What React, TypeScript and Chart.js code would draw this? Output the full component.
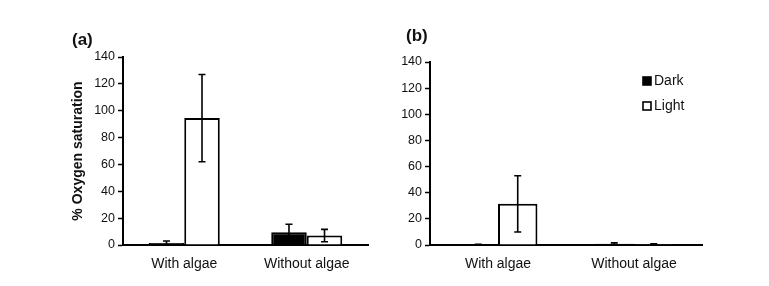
import React, { useEffect, useRef } from 'react';
import { Chart, registerables } from 'chart.js';

Chart.register(...registerables);

const FONT = '"Liberation Sans", Arial, sans-serif';
const TEXT = '#111111';

const categories = ['With algae', 'Without algae'];
const seriesNames = ['Dark', 'Light'];
const yMax = 140;
const yStep = 20;

// Panel (a)
const aDark = [1.5, 9.5];
const aDarkErr = [1.5, 6];
const aLight = [94.5, 7];
const aLightErr = [32.5, 4.6];

// Panel (b)
const bDark = [0.3, 0.9];
const bDarkErr = [0.2, 0.7];
const bLight = [31.5, 0.6];
const bLightErr = [21.5, 0.4];

const errorBarPlugin = {
  id: 'errorBars',
  afterDatasetsDraw(chart: any) {
    const ctx = chart.ctx;
    const ys = chart.scales.y;
    chart.data.datasets.forEach((ds: any, i: number) => {
      const errs = ds.errors;
      if (!errs) return;
      const meta = chart.getDatasetMeta(i);
      meta.data.forEach((bar: any, j: number) => {
        const v = ds.data[j];
        const e = errs[j];
        if (!e) return;
        const x = bar.x;
        const yTop = ys.getPixelForValue(v + e);
        const yBot = ys.getPixelForValue(Math.max(0, v - e));
        ctx.save();
        ctx.strokeStyle = '#000';
        ctx.lineWidth = 1.6;
        ctx.beginPath();
        ctx.moveTo(x, yTop);
        ctx.lineTo(x, yBot);
        ctx.moveTo(x - 3.5, yTop);
        ctx.lineTo(x + 3.5, yTop);
        ctx.moveTo(x - 3.5, yBot);
        ctx.lineTo(x + 3.5, yBot);
        ctx.stroke();
        ctx.restore();
      });
    });
  },
};

const customLegendPlugin = {
  id: 'customLegend',
  afterDraw(chart: any) {
    const opts = chart.options.plugins.customLegend;
    if (!opts || !opts.display) return;
    const ctx = chart.ctx;
    ctx.save();
    chart.data.datasets.forEach((ds: any, i: number) => {
      const y = opts.y + i * opts.gap;
      ctx.fillStyle = ds.backgroundColor;
      ctx.strokeStyle = '#000';
      ctx.lineWidth = 1.6;
      ctx.fillRect(opts.x, y - 4, 8, 8);
      ctx.strokeRect(opts.x, y - 4, 8, 8);
      ctx.fillStyle = TEXT;
      ctx.font = `14px ${FONT}`;
      ctx.textBaseline = 'middle';
      ctx.textAlign = 'left';
      ctx.fillText(ds.label, opts.x + 11, y + 0.5);
    });
    ctx.restore();
  },
};

type PanelProps = {
  left: number;
  width: number;
  padding: { left: number; right: number; top: number; bottom: number };
  yWidth: number;
  showTitle: boolean;
  dark: number[];
  darkErr: number[];
  light: number[];
  lightErr: number[];
  legend?: { x: number; y: number; gap: number };
};

function Panel(p: PanelProps) {
  const ref = useRef<HTMLCanvasElement | null>(null);
  useEffect(() => {
    if (!ref.current) return;
    const chart = new Chart(ref.current, {
      type: 'bar',
      data: {
        labels: categories,
        datasets: [
          {
            label: seriesNames[0],
            data: p.dark,
            errors: p.darkErr,
            backgroundColor: '#000000',
            borderColor: '#000000',
            borderWidth: 2,
            categoryPercentage: 0.58,
            barPercentage: 1,
          } as any,
          {
            label: seriesNames[1],
            data: p.light,
            errors: p.lightErr,
            backgroundColor: '#ffffff',
            borderColor: '#000000',
            borderWidth: 2,
            categoryPercentage: 0.58,
            barPercentage: 1,
          } as any,
        ],
      },
      options: {
        responsive: false,
        animation: false,
        events: [],
        layout: { padding: p.padding },
        plugins: {
          legend: { display: false },
          tooltip: { enabled: false },
          customLegend: p.legend ? { display: true, ...p.legend } : { display: false },
        } as any,
        scales: {
          x: {
            grid: { display: true, drawOnChartArea: false, drawTicks: false, color: '#000' },
            border: { display: true, color: '#000', width: 2 },
            ticks: { color: TEXT, font: { size: 14, family: FONT }, padding: 11, maxRotation: 0 },
            afterFit: (s: any) => {
              s.height = 286 - 245 - p.padding.bottom;
            },
          },
          y: {
            min: 0,
            max: yMax,
            ticks: { stepSize: yStep, color: TEXT, font: { size: 12.5, family: FONT }, padding: 3 },
            grid: { display: true, drawOnChartArea: false, drawTicks: true, tickLength: 5, tickColor: '#000', tickWidth: 1.5 },
            border: { display: true, color: '#000', width: 2 },
            title: {
              display: p.showTitle,
              text: '% Oxygen saturation',
              color: TEXT,
              font: { size: 14, weight: 'bold', family: FONT },
              padding: { top: 0, bottom: 0 },
            },
            afterFit: (s: any) => {
              s.width = p.yWidth;
            },
          },
        },
      } as any,
      plugins: [errorBarPlugin, customLegendPlugin],
    });
    return () => chart.destroy();
  }, []);
  return (
    <canvas
      ref={ref}
      width={p.width}
      height={286}
      style={{ position: 'absolute', left: p.left, top: 0, width: p.width, height: 286 }}
    />
  );
}

export default function App() {
  const labelStyle: React.CSSProperties = {
    position: 'absolute',
    fontFamily: FONT,
    fontWeight: 'bold',
    fontSize: 17,
    lineHeight: '17px',
    color: '#111',
  };
  return (
    <div style={{ position: 'fixed', left: 0, top: 0, width: 769, height: 286, background: '#fff', overflow: 'hidden' }}>
      <Panel
        left={0}
        width={385}
        padding={{ left: 70, right: 17, top: 57, bottom: 0 }}
        yWidth={53}
        showTitle={true}
        dark={aDark}
        darkErr={aDarkErr}
        light={aLight}
        lightErr={aLightErr}
      />
      <Panel
        left={385}
        width={384}
        padding={{ left: 0, right: 67, top: 62, bottom: 0 }}
        yWidth={45}
        showTitle={false}
        dark={bDark}
        darkErr={bDarkErr}
        light={bLight}
        lightErr={bLightErr}
        legend={{ x: 258, y: 81, gap: 25 }}
      />
      <div style={{ ...labelStyle, left: 72, top: 31 }}>(a)</div>
      <div style={{ ...labelStyle, left: 406, top: 27 }}>(b)</div>
    </div>
  );
}
